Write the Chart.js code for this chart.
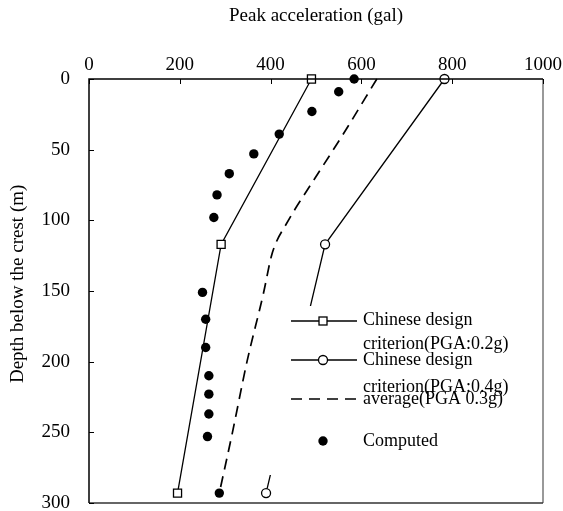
<!DOCTYPE html>
<html><head><meta charset="utf-8">
<script src="https://cdn.jsdelivr.net/npm/chart.js@4/dist/chart.umd.min.js"></script>
<style>html,body{margin:0;padding:0;background:#fff;overflow:hidden}#wrap{position:relative;width:563px;height:511px}</style>
</head><body><div id="wrap"><canvas id="c"></canvas></div>
<script>
// ---- data ----
const xTickValues = [0, 200, 400, 600, 800, 1000];
const yTickValues = [0, 50, 100, 150, 200, 250, 300];
const designDepth = [0, 117, 293];
const design02PGA = [490, 291, 195];
const design04PGA = [783, 520, 390];
const averageDepth = [0, 40, 74, 92, 104, 115, 125, 152, 200, 250, 293];
const averagePGA = [634, 558, 490, 454, 432, 413, 402, 384, 348, 316, 287];
const computedDepth = [0, 9, 23, 39, 53, 67, 82, 98, 151, 170, 190, 210, 223, 237, 253, 293];
const computedPGA = [584, 550, 491, 419, 363, 309, 282, 275, 250, 257, 257, 264, 264, 264, 261, 287];
const legendLines = [
  ['Chinese design', 'criterion(PGA:0.2g)'],
  ['Chinese design', 'criterion(PGA:0.4g)'],
  ['average(PGA 0.3g)'],
  ['Computed']
];
const xTitle = 'Peak acceleration (gal)';
const yTitle = 'Depth below the crest (m)';

const FONT = "'Liberation Serif', 'Times New Roman', serif";
const toPts = (xs, ys) => xs.map((x, i) => ({x: x, y: ys[i]}));

const frameAndLegend = {
  id: 'frameAndLegend',
  afterDatasetsDraw(chart) {
    const ctx = chart.ctx, a = chart.chartArea;
    ctx.save();
    // legend box (white, covers lines beneath)
    const bx = a.left + 177, by = a.top + 227, bw = 275, bh = 169;
    ctx.fillStyle = '#fff';
    ctx.fillRect(bx, by, bw, bh);
    const lx0 = a.left + 202, lx1 = a.left + 268, mx = a.left + 234, tx = a.left + 274;
    const rowY = [a.top + 242, a.top + 281, a.top + 320, a.top + 362];
    const textY = [[a.top + 241, a.top + 265], [a.top + 281, a.top + 308], [a.top + 320], [a.top + 362]];
    ctx.strokeStyle = '#000'; ctx.lineWidth = 1.3;
    ctx.beginPath(); ctx.moveTo(lx0, rowY[0]); ctx.lineTo(lx1, rowY[0]); ctx.stroke();
    ctx.fillStyle = '#fff';
    ctx.fillRect(mx - 4, rowY[0] - 4, 8, 8); ctx.strokeRect(mx - 4, rowY[0] - 4, 8, 8);
    ctx.beginPath(); ctx.moveTo(lx0, rowY[1]); ctx.lineTo(lx1, rowY[1]); ctx.stroke();
    ctx.beginPath(); ctx.arc(mx, rowY[1], 4.5, 0, Math.PI * 2); ctx.fill(); ctx.stroke();
    ctx.save(); ctx.setLineDash([11, 7]); ctx.lineWidth = 1.6;
    ctx.beginPath(); ctx.moveTo(lx0, rowY[2]); ctx.lineTo(lx1, rowY[2]); ctx.stroke(); ctx.restore();
    ctx.fillStyle = '#000';
    ctx.beginPath(); ctx.arc(mx, rowY[3], 4.7, 0, Math.PI * 2); ctx.fill();
    ctx.font = '18px ' + FONT; ctx.textBaseline = 'middle'; ctx.textAlign = 'left';
    legendLines.forEach((lines, i) => lines.forEach((t, j) => ctx.fillText(t, tx, textY[i][j])));
    // frame
    ctx.lineWidth = 1.5;
    ctx.strokeStyle = '#777';
    ctx.beginPath(); ctx.moveTo(a.right, a.top); ctx.lineTo(a.right, a.bottom); ctx.stroke();
    ctx.strokeStyle = '#333';
    ctx.beginPath(); ctx.moveTo(a.left, a.bottom); ctx.lineTo(a.right, a.bottom); ctx.stroke();
    ctx.strokeStyle = '#000';
    ctx.beginPath(); ctx.moveTo(a.left, a.bottom); ctx.lineTo(a.left, a.top); ctx.lineTo(a.right, a.top); ctx.stroke();
    // inward tick marks
    ctx.lineWidth = 1;
    const xs = chart.scales.x, ys = chart.scales.y;
    xTickValues.forEach(v => { const p = Math.round(xs.getPixelForValue(v)) + 0.5; ctx.beginPath(); ctx.moveTo(p, a.top); ctx.lineTo(p, a.top + 5); ctx.stroke(); });
    yTickValues.forEach(v => { const p = Math.round(ys.getPixelForValue(v)) + 0.5; ctx.beginPath(); ctx.moveTo(a.left, p); ctx.lineTo(a.left + 5, p); ctx.stroke(); });
    ctx.restore();
  }
};

new Chart(document.getElementById('c'), {
  type: 'scatter',
  data: {
    datasets: [
      { label: 'Chinese design criterion(PGA:0.2g)', data: toPts(design02PGA, designDepth), showLine: true,
        borderColor: '#000', borderWidth: 1.3, pointStyle: 'rect', pointRadius: 5.7, pointBorderWidth: 1.3,
        pointBackgroundColor: '#fff', pointBorderColor: '#000', clip: false },
      { label: 'Chinese design criterion(PGA:0.4g)', data: toPts(design04PGA, designDepth), showLine: true,
        borderColor: '#000', borderWidth: 1.3, pointStyle: 'circle', pointRadius: 4.5, pointBorderWidth: 1.3,
        pointBackgroundColor: '#fff', pointBorderColor: '#000', clip: false },
      { label: 'average(PGA 0.3g)', data: toPts(averagePGA, averageDepth), showLine: true,
        borderColor: '#000', borderWidth: 1.7, borderDash: [11, 7], pointRadius: 0, cubicInterpolationMode: 'monotone', clip: false },
      { label: 'Computed', data: toPts(computedPGA, computedDepth), showLine: false,
        pointStyle: 'circle', pointRadius: 4.7, pointBackgroundColor: '#000', pointBorderColor: '#000', pointBorderWidth: 0, clip: false }
    ]
  },
  options: {
    responsive: true, maintainAspectRatio: false, animation: false, devicePixelRatio: 1,
    layout: { padding: { top: 0, left: 0, right: 20, bottom: 8 } },
    plugins: { legend: { display: false }, tooltip: { enabled: false } },
    scales: {
      x: {
        type: 'linear', position: 'top', min: 0, max: 1000,
        afterBuildTicks: s => { s.ticks = xTickValues.map(v => ({value: v})); },
        afterFit: s => { s.height = 79; s.paddingLeft = 0; s.paddingRight = 0; },
        grid: { display: false, drawTicks: false }, border: { display: false },
        ticks: { padding: 3, color: '#000', font: { family: FONT, size: 19 }, callback: v => String(v) },
        title: { display: true, text: xTitle, color: '#000', padding: { top: 5, bottom: 0 }, font: { family: FONT, size: 19 } }
      },
      y: {
        type: 'linear', reverse: true, min: 0, max: 300,
        afterBuildTicks: s => { s.ticks = yTickValues.map(v => ({value: v})); },
        afterFit: s => { s.width = 89; s.paddingTop = 0; s.paddingBottom = 0; },
        grid: { display: false, drawTicks: false }, border: { display: false },
        ticks: { padding: 19, color: '#000', font: { family: FONT, size: 19 }, callback: v => String(v) },
        title: { display: true, text: '   ' + yTitle, color: '#000', padding: { top: 7, bottom: 0 }, font: { family: FONT, size: 19 } }
      }
    }
  },
  plugins: [frameAndLegend]
});
</script>
</body></html>
